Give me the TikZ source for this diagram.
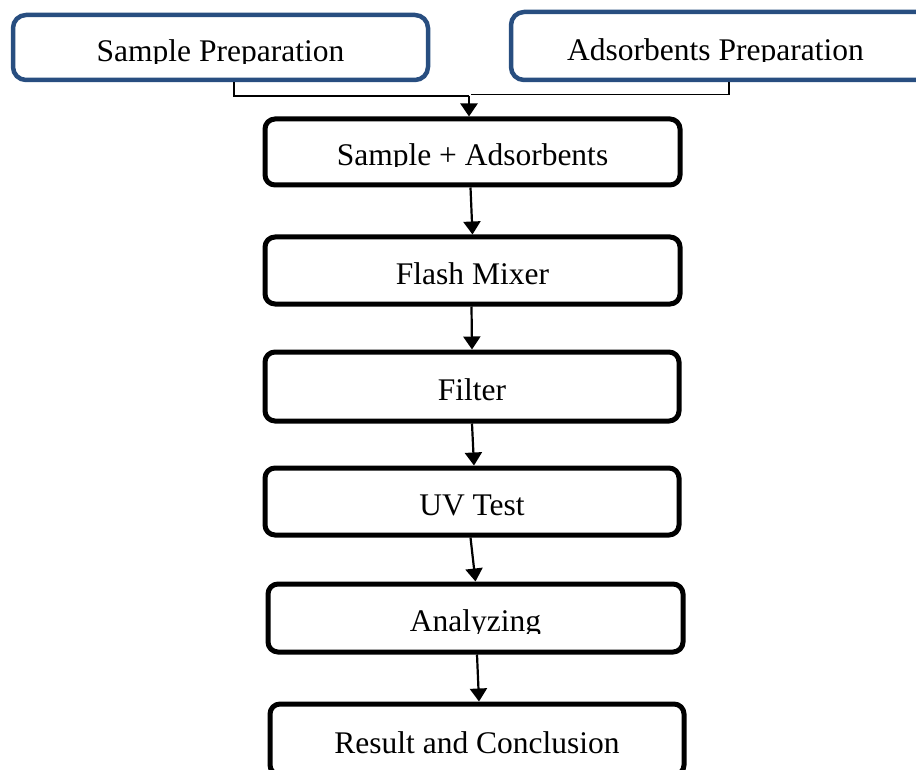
\documentclass[tikz,border=0pt]{standalone}
\usepackage{fontspec}
\setmainfont{Liberation Serif}
\usetikzlibrary{arrows.meta}
\definecolor{boxblue}{RGB}{40,78,128}
\newlength\ctw
\newcommand{\cliptext}[1]{\settowidth{\ctw}{#1}\tikz[baseline=0pt,sharp corners]{\useasboundingbox (0pt,0pt) rectangle (\ctw,22pt);\clip (-3pt,-1.5pt) rectangle (\ctw+3pt,40pt);\node[inner sep=0pt,outer sep=0pt,anchor=base west,text height=,text depth=,draw=none,minimum width=0pt,minimum height=0pt] at (0pt,0pt) {#1};}}
\tikzset{
  stepbox/.style={draw=black, line width=5pt, rounded corners=10pt, inner sep=0pt,
    text height=27pt, text depth=0pt, font=\fontsize{31.5}{36}\selectfont},
  prepbox/.style={stepbox, draw=boxblue, line width=4.5pt, rounded corners=13pt, text height=29pt},
  flow/.style={line width=2.2pt, -{Triangle[length=13pt,width=17pt]}},
  link/.style={line width=1.5pt},
}
\begin{document}
\begin{tikzpicture}[x=1pt,y=-1pt]
\useasboundingbox (0,0) rectangle (916,770);
\clip (0,0) rectangle (916,770);
\node[prepbox, minimum width=415pt, minimum height=65pt] (sp) at (220.5,47.5) {\cliptext{Sample Preparation}};
\node[prepbox, minimum width=424pt, minimum height=68pt] (ap) at (723,46) {\cliptext{Adsorbents Preparation}\kern15pt};
\node[stepbox, minimum width=415pt, minimum height=66pt] (sa) at (472.5,152) {\cliptext{Sample + Adsorbents}};
\node[stepbox, minimum width=415pt, minimum height=67pt] (fm) at (472.5,270.5) {\cliptext{Flash Mixer}};
\node[stepbox, minimum width=414pt, minimum height=69pt] (fi) at (472,386.5) {\cliptext{Filter}};
\node[stepbox, minimum width=414pt, minimum height=67pt] (uv) at (472,501.5) {\cliptext{UV Test}};
\node[stepbox, minimum width=415pt, minimum height=68pt] (an) at (475.5,618) {\cliptext{Analyzing}};
\node[stepbox, minimum width=414pt, minimum height=71pt] (rc) at (477,739.5) {\cliptext{Result and Conclusion}};
\coordinate (j) at (469,96);
\coordinate (k) at (471,94.5);
\draw[link] ([xshift=13.5pt]sp.south) |- (j);
\draw[link] (k) -| ([xshift=6pt]ap.south);
\draw[flow] (j) -- (j |- sa.north);
\draw[flow] ([xshift=-2pt]sa.south) -- (fm.north);
\draw[flow] ([xshift=-1pt]fm.south) -- (fi.north);
\draw[flow] (fi.south) -- ([xshift=2pt]uv.north);
\draw[flow] ([xshift=-1.5pt]uv.south) -- (an.north);
\draw[flow] ([xshift=1.5pt]an.south) -- ([xshift=2pt]rc.north);
\end{tikzpicture}
\end{document}
